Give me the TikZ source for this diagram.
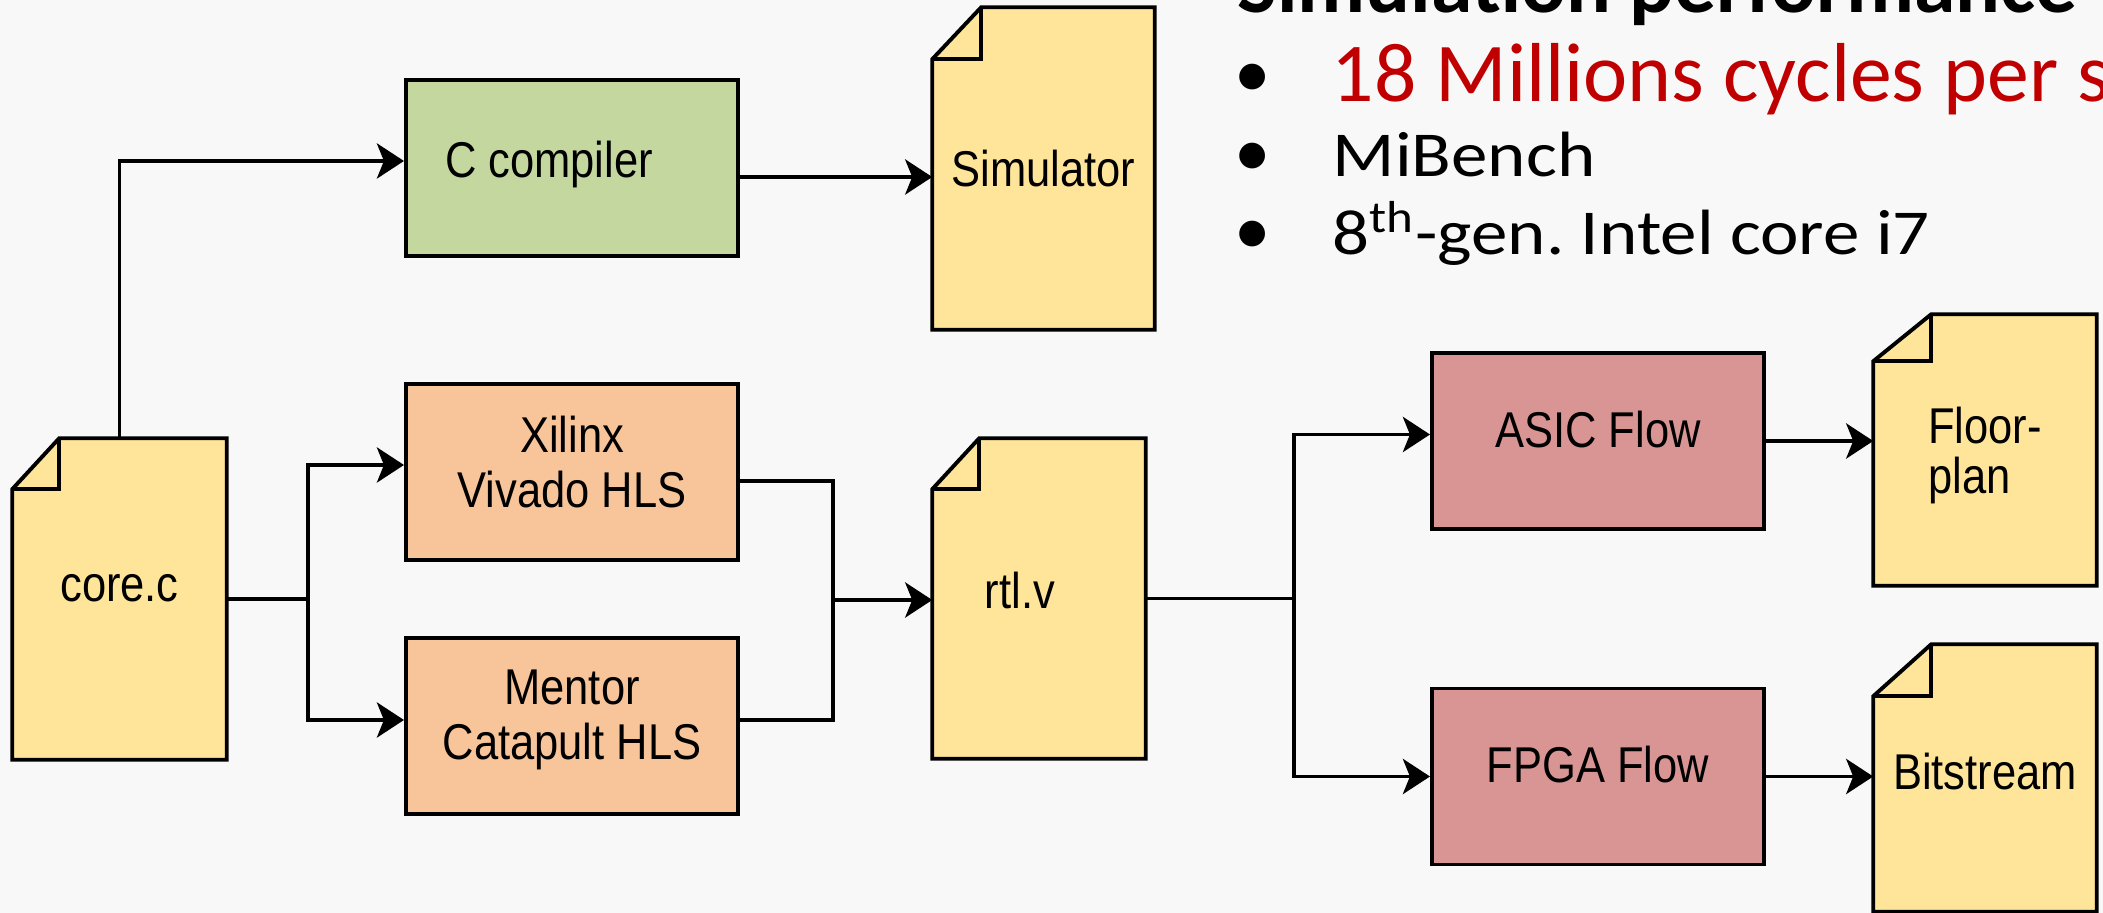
\documentclass[tikz,border=0pt]{standalone}
\usepackage{fontspec}
\newfontfamily\boxfont[FakeStretch=0.865]{Liberation Sans}
\newfontfamily\slidefont{Carlito}
\newfontfamily\slidewide[FakeStretch=1.14]{Carlito}
\usetikzlibrary{arrows.meta,backgrounds}
\definecolor{docyellow}{HTML}{FFE599}
\definecolor{ccgreen}{HTML}{C4D79F}
\definecolor{hlsorange}{HTML}{F8C49A}
\definecolor{flowred}{HTML}{D99594}
\definecolor{slidebg}{HTML}{F8F8F8}
\definecolor{slidered}{HTML}{C00000}

\begin{document}
\begin{tikzpicture}[x=0.01cm,y=-0.01cm,
    every node/.style={font=\boxfont\fontsize{14.3pt}{15.6pt}\selectfont},
    box/.style={draw,line width=1.1pt,fill=#1,minimum width=3.32cm,minimum height=1.76cm,align=center,inner sep=0pt},
    doc/.style={inner sep=0pt,align=center},
    wire/.style={line width=1.1pt},
    arr/.style={wire,-{Stealth[length=7.7pt,width=10pt,inset=2pt]}},
    bullet/.style={font=\slidefont\fontsize{20.7pt}{24pt}\selectfont,anchor=base west,inner sep=0pt},
    item/.style={font=\slidewide\fontsize{18.2pt}{22pt}\selectfont,anchor=base west,inner sep=0pt}]
    \useasboundingbox (0,0) rectangle (2103,913);
    \clip (0,0) rectangle (2103,913);
    \node[box=ccgreen,text depth=0.18cm] (cc) at (572,168) {C compiler\hspace*{0.46cm}};
    \node[box=hlsorange,text depth=0.2cm] (xil) at (572,472) {Xilinx\\Vivado HLS};
    \node[box=hlsorange,text depth=0.22cm] (men) at (572,726) {Mentor\\Catapult HLS};
    \node[box=flowred,text depth=0.24cm] (asic) at (1598,441) {ASIC Flow};
    \node[box=flowred,text depth=0.25cm] (fpga) at (1598,776.5) {FPGA Flow};
    \node[doc,minimum width=2.13cm,minimum height=3.2cm,text depth=0.22cm] (core) at (119.5,599) {core.c};
    \node[doc,minimum width=2.21cm,minimum height=3.21cm] (sim) at (1043.5,168.5) {Simulator};
    \node[doc,minimum width=2.12cm,minimum height=3.19cm,text depth=0.16cm] (rtl) at (1039,598.5) {rtl.v\hspace*{0.38cm}};
    \node[doc,minimum width=2.22cm,minimum height=2.7cm,align=left,text depth=0pt] (floor) at (1985,450) {Floor-\\[-1.4pt]plan};
    \node[doc,minimum width=2.22cm,minimum height=2.66cm,text depth=0.14cm] (bits) at (1985,778) {Bitstream};
    \begin{scope}[on background layer]
        \fill[slidebg] (0,0) rectangle (2103,913);
        \foreach \nm/\fw/\fh in {core/0.47/0.51,sim/0.49/0.52,rtl/0.47/0.51,floor/0.58/0.47,bits/0.58/0.52} {
            \draw[wire,fill=docyellow] (\nm.south west) -- (\nm.south east) -- (\nm.north east)
                -- ([xshift=\fw cm]\nm.north west) -- ([yshift=-\fh cm]\nm.north west) -- cycle;
            \draw[wire] ([xshift=\fw cm]\nm.north west) |- ([yshift=-\fh cm]\nm.north west);
        }
    \end{scope}
    \coordinate (ccout) at ([yshift=-0.09cm]cc.east);
    \coordinate (fork1) at (308,599);
    \coordinate (join2) at (833,600);
    \coordinate (fork3) at (1294,598.5);
    \draw[arr] (core.north) |- ([yshift=0.07cm]cc.west);
    \draw[arr] (ccout) -- (ccout -| sim.west);
    \draw[wire] (core.east) -- (fork1);
    \draw[arr] (fork1) |- ([yshift=0.07cm]xil.west);
    \draw[arr] (fork1) |- ([yshift=0.06cm]men.west);
    \draw[wire] ([yshift=-0.09cm]xil.east) -| (join2);
    \draw[wire] ([yshift=0.06cm]men.east) -| (join2);
    \draw[arr] (join2) -- (join2 -| rtl.west);
    \draw[wire] (rtl.east) -- (fork3);
    \draw[arr] (fork3) |- ([yshift=0.065cm]asic.west);
    \draw[arr] (fork3) |- (fpga.west);
    \draw[arr] (asic.east) -- (asic.east -| floor.west);
    \draw[arr] (fpga.east) -- (fpga.east -| bits.west);
    \node[anchor=base west,inner sep=0pt,font=\slidefont\bfseries\fontsize{23.8pt}{28pt}\selectfont] (title) at (1237,13) {Simulation performance};
    \node[bullet] (dot1) at (1234,98) {•};
    \node[bullet,font=\slidefont\fontsize{23.8pt}{28pt}\selectfont,text=slidered] (perf) at (1331,102) {18 Millions cycles per s};
    \node[bullet] (dot2) at (1234,177) {•};
    \node[item] (bench) at (1332,177) {MiBench};
    \node[bullet] (dot3) at (1234,255) {•};
    \node[item] (cpu) at (1332,255) {8\textsuperscript{th}-gen.\ Intel core i7};
\end{tikzpicture}
\end{document}
